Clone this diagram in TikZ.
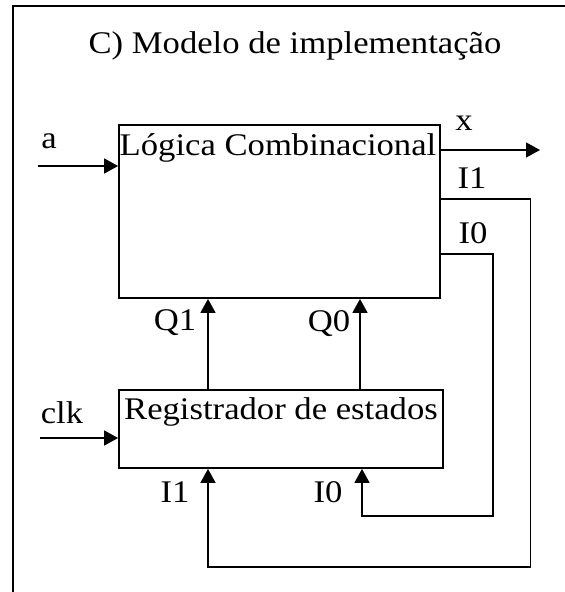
\documentclass[tikz,border=0pt]{standalone}
\usepackage{fontspec}
\setmainfont[FakeStretch=1.1]{Liberation Serif}
\usetikzlibrary{arrows.meta}
\tikzset{
  box/.style={draw=black, line width=1.8pt, inner sep=0pt, anchor=center},
  lbl/.style={inner sep=0pt, anchor=base, font=\fontsize{31.5}{36}\selectfont},
  wire/.style={draw=black, line width=1.6pt},
  arr/.style={wire, -{Triangle[length=14pt,width=15pt]}},
}
\begin{document}
\begin{tikzpicture}[x=1pt,y=-1pt]
\useasboundingbox (0,0) rectangle (565,592);
\clip (0,0) rectangle (565,592);
\fill[white] (0,0) rectangle (565,592);
\draw[line width=2pt] (13,6) rectangle (620,640);
% title
\node[lbl] (title) at (295,53) {C) Modelo de implementação};
% boxes
\node[box, minimum width=321pt, minimum height=173pt] (lc) at (279.5,211.5) {};
\node[box, minimum width=324pt, minimum height=78pt] (reg) at (281,429) {};
\node[lbl] (lctext) at (278,155) {Lógica Combinacional};
\node[lbl] (regtext) at (281,419) {Registrador de estados};
% labels
\node[lbl] (la) at (49,148) {a};
\node[lbl] (lx) at (464,130) {x};
\node[lbl] (li1t) at (472,188) {I1};
\node[lbl] (li0t) at (473,243) {I0};
\node[lbl] (lq1) at (175,330) {Q1};
\node[lbl] (lq0) at (329,331) {Q0};
\node[lbl] (lclk) at (62,423) {clk};
\node[lbl] (li1b) at (175,502) {I1};
\node[lbl] (li0b) at (328,502) {I0};
% coordinates
\coordinate (ain) at (38,166);
\coordinate (clkin) at (40,438);
\coordinate (xout) at (540,150);
\coordinate (q1) at (208,0);
\coordinate (q0) at (360,0);
\coordinate (i1a) at (530.5,199);
\coordinate (i1b) at (530.5,567);
\coordinate (i1c) at (208,567);
\coordinate (i0a) at (493,254);
\coordinate (i0b) at (493,516);
\coordinate (i0c) at (362,516);
% connectors
\draw[arr] (ain) -- (lc.west |- ain);
\draw[arr] (clkin) -- (reg.west |- clkin);
\draw[arr] (lc.east |- xout) -- (xout);
\draw[arr] (reg.north -| q1) -- (lc.south -| q1);
\draw[arr] (reg.north -| q0) -- (lc.south -| q0);
\draw[arr] (lc.east |- i1a) -- (i1a) -- (i1b) -- (i1c) -- (reg.south -| i1c);
\draw[arr] (lc.east |- i0a) -- (i0a) -- (i0b) -- (i0c) -- (reg.south -| i0c);
\end{tikzpicture}
\end{document}
